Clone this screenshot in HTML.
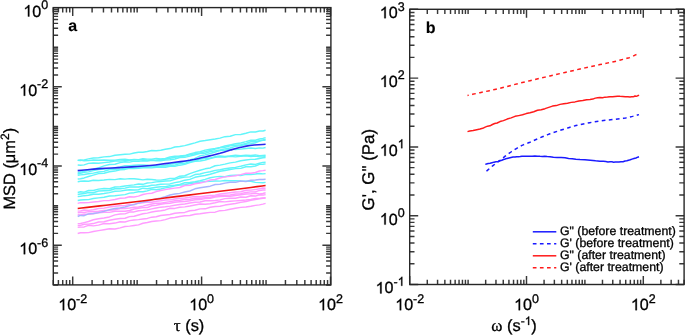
<!DOCTYPE html><html><head><meta charset="utf-8"><style>
html,body{margin:0;padding:0;background:#fff;width:685px;height:335px;overflow:hidden}
svg{display:block;filter:blur(0.35px)}
.g1{fill:#000;stroke:#000;stroke-width:0.3px;vector-effect:non-scaling-stroke}
text{font-family:"Liberation Sans",sans-serif;fill:#000;stroke:#000;stroke-width:0.3px;text-rendering:geometricPrecision}
</style></head><body>
<svg width="685" height="335" viewBox="0 0 685 335">
<rect width="685" height="335" fill="#fff"/>
<g fill="none" stroke-linejoin="round" stroke-linecap="butt">
<path d="M77.7 160.4 L80.52 160.44 L84.17 159.86 L88.49 158.9 L93.32 158.07 L98.54 157.69 L103.98 156.86 L109.49 156.59 L114.93 155.3 L120.15 154.82 L125 154.3 L129.57 154.1 L134.07 153.05 L138.51 152.24 L142.93 152.27 L147.33 151.56 L151.75 150.55 L156.2 150.74 L160.72 150.18 L165.31 149.26 L170 148.58 L174.82 146.99 L179.75 146.51 L184.77 145.65 L189.85 144.29 L194.96 142.9 L200.08 141.31 L205.17 140.58 L210.2 139.71 L215.16 139.04 L220 138.16 L224.94 136.67 L230.13 136.24 L235.44 134.63 L240.75 134.43 L245.93 133.3 L250.85 131.9 L255.41 132.04 L259.47 131.04 L262.91 131.02 L265.6 130.2" stroke="#62f5fa" stroke-width="1.45"/>
<path d="M77.7 160.4 L80.52 159.93 L84.17 160.75 L88.49 160.61 L93.32 159.95 L98.54 160.18 L103.98 160.06 L109.49 160.22 L114.93 160.29 L120.15 159.35 L125 159.13 L129.57 159.98 L134.07 159.4 L138.51 159.71 L142.93 158.71 L147.33 159.12 L151.75 159.29 L156.2 158.46 L160.72 159 L165.31 158.53 L170 156.94 L174.82 156.24 L179.75 156.03 L184.77 155.57 L189.85 153.87 L194.96 152.58 L200.08 151.7 L205.17 150.09 L210.2 149.19 L215.16 148.36 L220 147.39 L224.94 146.04 L230.13 144.94 L235.44 143.79 L240.75 142.94 L245.93 141.62 L250.85 140.23 L255.41 140.22 L259.47 139 L262.91 138.35 L265.6 137.6" stroke="#62f5fa" stroke-width="1.45"/>
<path d="M77.7 165 L80.52 165.27 L84.17 164.89 L88.49 163.37 L93.32 162.91 L98.54 163.28 L103.98 162.62 L109.49 162.01 L114.93 161.08 L120.15 161 L125 160.63 L129.57 160.33 L134.07 159.66 L138.51 159.89 L142.93 159.78 L147.33 160.12 L151.75 160.36 L156.2 160.16 L160.72 159.43 L165.31 158.95 L170 158.22 L174.82 157.26 L179.75 156.42 L184.77 156 L189.85 154.79 L194.96 153.76 L200.08 153.24 L205.17 151.66 L210.2 150.57 L215.16 149.1 L220 147.83 L224.94 147.19 L230.13 145.9 L235.44 145.27 L240.75 144.77 L245.93 143.33 L250.85 141.73 L255.41 141.65 L259.47 140.71 L262.91 139.93 L265.6 139.1" stroke="#62f5fa" stroke-width="1.45"/>
<path d="M77.7 172.9 L80.52 171.91 L84.17 171.35 L88.49 170.04 L93.32 169.09 L98.54 167.81 L103.98 165.83 L109.49 164.49 L114.93 164.31 L120.15 162.61 L125 161.78 L129.57 162.14 L134.07 161.14 L138.51 161.35 L142.93 160.79 L147.33 160.91 L151.75 160.25 L156.2 160.72 L160.72 160.8 L165.31 160.05 L170 159.79 L174.82 159.01 L179.75 157.46 L184.77 157.36 L189.85 156.15 L194.96 154.74 L200.08 153.31 L205.17 153.2 L210.2 151.63 L215.16 150.87 L220 150.05 L224.94 148.85 L230.13 148.04 L235.44 146.32 L240.75 145.71 L245.93 144.21 L250.85 143.78 L255.41 142.77 L259.47 140.99 L262.91 140.32 L265.6 140.2" stroke="#62f5fa" stroke-width="1.45"/>
<path d="M77.7 174 L80.52 173.18 L84.17 172.33 L88.49 171.86 L93.32 170.65 L98.54 169.57 L103.98 168.99 L109.49 168.67 L114.93 167.67 L120.15 166.89 L125 165.67 L129.57 165.69 L134.07 165.22 L138.51 165.09 L142.93 165.08 L147.33 165.31 L151.75 166.23 L156.2 166.1 L160.72 165.92 L165.31 165.56 L170 164.23 L174.82 163.46 L179.75 162.65 L184.77 161.38 L189.85 159.98 L194.96 158.39 L200.08 155.8 L205.17 154.85 L210.2 153.47 L215.16 152.01 L220 150.61 L224.94 150.19 L230.13 149.1 L235.44 149.62 L240.75 149.14 L245.93 148.46 L250.85 147.92 L255.41 148.47 L259.47 147.9 L262.91 148.12 L265.6 147.5" stroke="#62f5fa" stroke-width="1.45"/>
<path d="M77.7 175.2 L80.52 174.9 L84.17 174.44 L88.49 173.78 L93.32 173.14 L98.54 172.04 L103.98 171.39 L109.49 169.48 L114.93 169.21 L120.15 169.09 L125 168.18 L129.57 168.07 L134.07 166.84 L138.51 167.08 L142.93 166.68 L147.33 166.93 L151.75 166.85 L156.2 166.01 L160.72 166.01 L165.31 165.74 L170 166 L174.82 165.13 L179.75 163.55 L184.77 163.33 L189.85 161.48 L194.96 160.95 L200.08 159.26 L205.17 158.07 L210.2 158.17 L215.16 156.57 L220 155.96 L224.94 156.44 L230.13 156.01 L235.44 155.11 L240.75 155.82 L245.93 155.27 L250.85 155.45 L255.41 154.91 L259.47 155.83 L262.91 155.55 L265.6 155.3" stroke="#62f5fa" stroke-width="1.45"/>
<path d="M77.7 179 L80.52 178.73 L84.17 177.92 L88.49 176.51 L93.32 175.12 L98.54 173.61 L103.98 173.2 L109.49 171.81 L114.93 171.08 L120.15 169.69 L125 169.42 L129.57 168.3 L134.07 168.58 L138.51 168.27 L142.93 167.75 L147.33 167.81 L151.75 167.89 L156.2 167.17 L160.72 167.4 L165.31 167.36 L170 166.22 L174.82 166.17 L179.75 165.16 L184.77 164.35 L189.85 162.66 L194.96 161.25 L200.08 160.99 L205.17 159.94 L210.2 158.56 L215.16 157.33 L220 156.84 L224.94 156.93 L230.13 156.23 L235.44 156.85 L240.75 156.34 L245.93 155.86 L250.85 156.44 L255.41 156.15 L259.47 156.89 L262.91 156.9 L265.6 156.4" stroke="#62f5fa" stroke-width="1.45"/>
<path d="M77.7 181.7 L80.52 181.33 L84.17 180.91 L88.49 181.25 L93.32 180.27 L98.54 180.52 L103.98 180.01 L109.49 179.35 L114.93 179.62 L120.15 178.83 L125 179.12 L129.57 178.61 L134.07 178.69 L138.51 179.23 L142.93 179.88 L147.33 179.2 L151.75 179.42 L156.2 179.91 L160.72 180.15 L165.31 179.37 L170 178.58 L174.82 178.41 L179.75 176.16 L184.77 175.79 L189.85 173.62 L194.96 171.85 L200.08 170.2 L205.17 168.83 L210.2 167.93 L215.16 165.79 L220 165.1 L224.94 164.14 L230.13 162.85 L235.44 162.14 L240.75 160.71 L245.93 159.92 L250.85 159.37 L255.41 159.29 L259.47 158.42 L262.91 157.79 L265.6 157.6" stroke="#62f5fa" stroke-width="1.45"/>
<path d="M77.7 192.5 L80.52 191.78 L84.17 192.16 L88.49 190.55 L93.32 190.57 L98.54 189.1 L103.98 188.54 L109.49 188.69 L114.93 187 L120.15 186.81 L125 185.95 L129.57 185.37 L134.07 184.9 L138.51 184.05 L142.93 184.34 L147.33 182.98 L151.75 182.65 L156.2 181.86 L160.72 181.56 L165.31 181.06 L170 180.88 L174.82 179.37 L179.75 178.05 L184.77 177.14 L189.85 176.88 L194.96 174.58 L200.08 174.06 L205.17 172.6 L210.2 171.81 L215.16 170.37 L220 169.83 L224.94 168.69 L230.13 167.98 L235.44 167.4 L240.75 166.18 L245.93 164.85 L250.85 164 L255.41 164.38 L259.47 163.22 L262.91 162.35 L265.6 162.3" stroke="#62f5fa" stroke-width="1.45"/>
<path d="M77.7 194.5 L80.52 194.06 L84.17 193.43 L88.49 192.53 L93.32 192.72 L98.54 190.95 L103.98 190.78 L109.49 190.49 L114.93 188.78 L120.15 188.67 L125 188.14 L129.57 186.94 L134.07 186.93 L138.51 186.95 L142.93 186.3 L147.33 186.29 L151.75 185.24 L156.2 184.92 L160.72 184.27 L165.31 184.14 L170 183.91 L174.82 182.62 L179.75 181.8 L184.77 180.18 L189.85 179.38 L194.96 177.33 L200.08 176.26 L205.17 175.44 L210.2 174.27 L215.16 172.75 L220 171.31 L224.94 170.54 L230.13 169.51 L235.44 168.65 L240.75 168.37 L245.93 166.76 L250.85 166.78 L255.41 166.03 L259.47 164.38 L262.91 164.21 L265.6 163.9" stroke="#62f5fa" stroke-width="1.45"/>
<path d="M77.7 196.6 L80.52 196.32 L84.17 195.66 L88.49 195.27 L93.32 194.18 L98.54 194.22 L103.98 193.52 L109.49 192.6 L114.93 191.32 L120.15 191.11 L125 190.29 L129.57 189.69 L134.07 190.08 L138.51 189.72 L142.93 188.18 L147.33 188.76 L151.75 188.05 L156.2 187.34 L160.72 186.73 L165.31 186.65 L170 185.75 L174.82 185.27 L179.75 184.38 L184.77 182.79 L189.85 182.55 L194.96 181.79 L200.08 180.75 L205.17 179.35 L210.2 177.75 L215.16 176.89 L220 176.36 L224.94 176.76 L230.13 175.5 L235.44 175.15 L240.75 175.43 L245.93 174.41 L250.85 174.43 L255.41 174.07 L259.47 173.42 L262.91 173.87 L265.6 173.6" stroke="#62f5fa" stroke-width="1.45"/>
<path d="M77.7 200.5 L80.52 200.08 L84.17 199.75 L88.49 199.64 L93.32 198.48 L98.54 197.87 L103.98 197.26 L109.49 196.06 L114.93 195.72 L120.15 195.15 L125 194.65 L129.57 193.12 L134.07 192.66 L138.51 191.67 L142.93 191.78 L147.33 190.89 L151.75 189.35 L156.2 189.73 L160.72 188.97 L165.31 187.88 L170 187.14 L174.82 185.88 L179.75 184.97 L184.77 184.82 L189.85 183.5 L194.96 182.92 L200.08 182.29 L205.17 181.41 L210.2 181.39 L215.16 180.93 L220 181.11 L224.94 180.58 L230.13 180.72 L235.44 180.68 L240.75 181.08 L245.93 181.11 L250.85 181.19 L255.41 182.36 L259.47 182.64 L262.91 182.67 L265.6 182.4" stroke="#62f5fa" stroke-width="1.45"/>
<path d="M77.7 203.4 L80.52 202.67 L84.17 202.67 L88.49 202.62 L93.32 202.05 L98.54 201.54 L103.98 200.6 L109.49 200.41 L114.93 199.44 L120.15 198.21 L125 197.95 L129.57 196.71 L134.07 196.98 L138.51 196.15 L142.93 194.54 L147.33 193.6 L151.75 193.21 L156.2 191.58 L160.72 190.57 L165.31 189.61 L170 188.82 L174.82 188.15 L179.75 187.5 L184.77 185.52 L189.85 185.31 L194.96 183.72 L200.08 183.03 L205.17 181.84 L210.2 179.98 L215.16 179.55 L220 177.95 L224.94 176.85 L230.13 176.35 L235.44 175.83 L240.75 174.63 L245.93 173.27 L250.85 173.18 L255.41 172.48 L259.47 170.96 L262.91 170.61 L265.6 170.2" stroke="#ff9cff" stroke-width="1.45"/>
<path d="M77.7 211.1 L80.52 210.86 L84.17 209.96 L88.49 210.37 L93.32 209.74 L98.54 208.57 L103.98 208.15 L109.49 206.95 L114.93 206.3 L120.15 205.74 L125 205.63 L129.57 204.48 L134.07 204.82 L138.51 203.17 L142.93 202.75 L147.33 202.05 L151.75 202.3 L156.2 201.24 L160.72 200.8 L165.31 200.06 L170 199.86 L174.82 199.02 L179.75 198.23 L184.77 197.94 L189.85 197.23 L194.96 196.45 L200.08 196.74 L205.17 196.02 L210.2 195.44 L215.16 195.13 L220 193.97 L224.94 193.35 L230.13 192.75 L235.44 192.05 L240.75 191.68 L245.93 190.21 L250.85 190.11 L255.41 189.59 L259.47 188.82 L262.91 187.98 L265.6 188.2" stroke="#ff9cff" stroke-width="1.45"/>
<path d="M77.7 212.9 L80.52 212.23 L84.17 212.48 L88.49 211.59 L93.32 211.84 L98.54 211.27 L103.98 210.52 L109.49 210.29 L114.93 209.7 L120.15 208.52 L125 208.54 L129.57 208.04 L134.07 207.27 L138.51 207 L142.93 206.1 L147.33 204.92 L151.75 203.99 L156.2 203.13 L160.72 203.22 L165.31 202.38 L170 201.63 L174.82 200.82 L179.75 200.31 L184.77 199.42 L189.85 199.25 L194.96 198.26 L200.08 198.31 L205.17 197.8 L210.2 197.31 L215.16 196.26 L220 195.51 L224.94 195.19 L230.13 194.96 L235.44 194.06 L240.75 193.65 L245.93 192.57 L250.85 191.87 L255.41 191.86 L259.47 190.42 L262.91 190.01 L265.6 190" stroke="#ff9cff" stroke-width="1.45"/>
<path d="M77.7 214.7 L80.52 215.05 L84.17 214.16 L88.49 214.16 L93.32 213.83 L98.54 212.82 L103.98 212.23 L109.49 212.4 L114.93 211.33 L120.15 211.11 L125 211.17 L129.57 210.54 L134.07 208.97 L138.51 208.2 L142.93 207.61 L147.33 207.55 L151.75 205.79 L156.2 205.23 L160.72 204.31 L165.31 203.57 L170 203.33 L174.82 202.22 L179.75 201.79 L184.77 201.48 L189.85 200.78 L194.96 199.74 L200.08 199.52 L205.17 198.62 L210.2 198.32 L215.16 197.04 L220 196.64 L224.94 196.38 L230.13 196.31 L235.44 195.43 L240.75 194.8 L245.93 194.09 L250.85 193.73 L255.41 193.29 L259.47 193.89 L262.91 193.49 L265.6 192.8" stroke="#ff9cff" stroke-width="1.45"/>
<path d="M77.7 223.6 L80.52 223.53 L84.17 222.61 L88.49 221.48 L93.32 219.79 L98.54 218.76 L103.98 218.02 L109.49 216.94 L114.93 214.84 L120.15 213.95 L125 213.87 L129.57 212.08 L134.07 211.91 L138.51 210.74 L142.93 210.37 L147.33 209.9 L151.75 208.86 L156.2 207.94 L160.72 207.16 L165.31 206.84 L170 206.15 L174.82 205.2 L179.75 204.58 L184.77 203.98 L189.85 202.97 L194.96 202.21 L200.08 202.02 L205.17 200.82 L210.2 200.8 L215.16 200.44 L220 199.89 L224.94 198.63 L230.13 198.24 L235.44 198.27 L240.75 197.01 L245.93 197.23 L250.85 195.77 L255.41 196.07 L259.47 194.69 L262.91 195.09 L265.6 194.6" stroke="#ff9cff" stroke-width="1.45"/>
<path d="M77.7 225.4 L80.52 225.42 L84.17 224.23 L88.49 224.11 L93.32 223.57 L98.54 222.01 L103.98 221.71 L109.49 220.32 L114.93 219.23 L120.15 218.57 L125 218.2 L129.57 216.61 L134.07 216.3 L138.51 214.98 L142.93 213.78 L147.33 213.11 L151.75 212.08 L156.2 211.2 L160.72 210.77 L165.31 209.93 L170 208.27 L174.82 208.41 L179.75 207.2 L184.77 206.9 L189.85 206.03 L194.96 205.01 L200.08 204.04 L205.17 204.23 L210.2 203.72 L215.16 202.7 L220 201.54 L224.94 201.85 L230.13 201.26 L235.44 200.89 L240.75 200.52 L245.93 200.06 L250.85 199.35 L255.41 198.55 L259.47 198.37 L262.91 198.04 L265.6 197.8" stroke="#ff9cff" stroke-width="1.45"/>
<path d="M77.7 227.2 L80.52 227.11 L84.17 226.91 L88.49 225.34 L93.32 225.88 L98.54 225.12 L103.98 223.55 L109.49 223.77 L114.93 223.09 L120.15 221.68 L125 221.97 L129.57 220.6 L134.07 220.06 L138.51 219.65 L142.93 219.02 L147.33 218.41 L151.75 217.16 L156.2 216.7 L160.72 215.56 L165.31 214.99 L170 214.49 L174.82 213.2 L179.75 212.71 L184.77 212.43 L189.85 210.8 L194.96 210.23 L200.08 208.88 L205.17 208.84 L210.2 207.21 L215.16 206.45 L220 206.29 L224.94 205.08 L230.13 204.32 L235.44 203.47 L240.75 202.41 L245.93 201.43 L250.85 200.25 L255.41 199.44 L259.47 198.81 L262.91 198.26 L265.6 198.1" stroke="#ff9cff" stroke-width="1.45"/>
<path d="M77.7 233.5 L80.52 232.8 L84.17 232.71 L88.49 232.6 L93.32 231.57 L98.54 230.65 L103.98 229.69 L109.49 228.7 L114.93 228.95 L120.15 227.87 L125 226.5 L129.57 226.14 L134.07 225.48 L138.51 224.89 L142.93 223.29 L147.33 222.48 L151.75 221.46 L156.2 221.09 L160.72 220.64 L165.31 219.59 L170 218.07 L174.82 217.56 L179.75 216.44 L184.77 215.79 L189.85 215.44 L194.96 214.29 L200.08 213.69 L205.17 212.92 L210.2 212.4 L215.16 212.18 L220 210.68 L224.94 210.35 L230.13 209.24 L235.44 208.24 L240.75 207.36 L245.93 207.07 L250.85 206.31 L255.41 205.4 L259.47 204.9 L262.91 204.13 L265.6 203.4" stroke="#ff9cff" stroke-width="1.45"/>
<path d="M77.7 216.5 L80.52 215.42 L84.17 215.7 L88.49 213.85 L93.32 213.56 L98.54 212.6 L103.98 211.35 L109.49 209.65 L114.93 208.55 L120.15 207.85 L125 207.06 L129.57 205.64 L134.07 204.42 L138.51 203.15 L142.93 202.08 L147.33 201.36 L151.75 199.9 L156.2 198.91 L160.72 197.91 L165.31 196.78 L170 194.95 L174.82 194.02 L179.75 193.37 L184.77 191.96 L189.85 191.02 L194.96 188.82 L200.08 187.81 L205.17 186.97 L210.2 186.17 L215.16 184.51 L220 184.32 L224.94 183.13 L230.13 182.32 L235.44 182.34 L240.75 180.93 L245.93 181.45 L250.85 180.29 L255.41 179.99 L259.47 179.47 L262.91 179.51 L265.6 179.3" stroke="#a8b4ff" stroke-width="1.45"/>
<path d="M77.7 170.6 L81.64 170.22 L87.29 169.68 L93.71 169.1 L100 168.6 L106.06 168.24 L112.33 167.94 L118.69 167.64 L125 167.3 L131.37 166.9 L137.81 166.48 L144.1 166.01 L150 165.5 L155.35 164.93 L160.31 164.31 L165.12 163.66 L170 163 L175.12 162.33 L180.31 161.64 L185.35 160.94 L190 160.2 L194.1 159.44 L197.81 158.66 L201.37 157.84 L205 157 L208.75 156.13 L212.5 155.23 L216.25 154.29 L220 153.3 L223.75 152.2 L227.5 151.03 L231.25 149.86 L235 148.8 L238.74 147.84 L242.46 146.94 L246.21 146.15 L250 145.5 L254.22 145.02 L258.74 144.69 L262.78 144.47 L265.6 144.3" stroke="#2828ec" stroke-width="1.6"/>
<path d="M77.7 208.5 L81.64 208.04 L87.29 207.38 L93.71 206.63 L100 205.9 L106.06 205.2 L112.33 204.48 L118.69 203.74 L125 203 L131.37 202.25 L137.81 201.48 L144.1 200.72 L150 200 L155.23 199.33 L160 198.71 L164.77 198.08 L170 197.4 L175.9 196.66 L182.19 195.88 L188.63 195.09 L195 194.3 L201.25 193.52 L207.5 192.74 L213.75 191.97 L220 191.2 L226.35 190.44 L232.78 189.67 L239.06 188.93 L245 188.2 L250.94 187.44 L256.86 186.66 L262 185.98 L265.6 185.5" stroke="#f01414" stroke-width="1.6"/>
</g>
<g fill="none" stroke-width="1.5" stroke-linejoin="round">
<path d="M467.5 95.4 L469.57 94.95 L472.5 94.33 L476.05 93.56 L480 92.7 L484.47 91.74 L489.53 90.66 L494.82 89.5 L500 88.3 L505 87.05 L510 85.72 L515 84.39 L520 83.1 L525 81.87 L530 80.67 L535 79.48 L540 78.3 L545 77.12 L550 75.94 L555 74.77 L560 73.6 L565 72.44 L570 71.28 L575 70.13 L580 69 L585.12 67.86 L590.31 66.71 L595.35 65.61 L600 64.6 L604.22 63.7 L608.12 62.89 L611.72 62.13 L615 61.4 L617.95 60.68 L620.56 60 L622.9 59.37 L625 58.8 L626.83 58.34 L628.38 57.96 L629.73 57.6 L631 57.2 L632.14 56.73 L633.12 56.23 L634.05 55.71 L635 55.2 L636.09 54.65 L637.25 54.08 L638.28 53.56 L639 53.2" stroke="#ff1a1a" stroke-dasharray="3.75 3.45" stroke-dashoffset="2.5"/>
<path d="M467.5 131.6 L469.8 130.97 L473.12 130.54 L476.76 129.68 L480 129.07 L482.68 128.31 L485.16 127.08 L487.56 126.17 L490 125.84 L492.38 124.5 L494.69 123.51 L497.15 123.03 L500 121.58 L503.4 120.63 L507.19 119.08 L511.13 117.9 L515 116.36 L518.75 115.62 L522.5 114.8 L526.25 113.59 L530 112.77 L533.75 111.72 L537.5 110.31 L541.25 109.79 L545 108.66 L548.75 107.39 L552.5 106.1 L556.25 105.61 L560 104.38 L563.75 103.74 L567.5 103.15 L571.25 102.38 L575 101.89 L578.87 100.9 L582.81 100.59 L586.6 99.78 L590 99.6 L592.85 99.1 L595.31 98.13 L597.62 97.78 L600 97.5 L602.5 97.74 L605 97.14 L607.5 97.07 L610 96.66 L612.5 96.63 L615 96.4 L617.5 96.26 L620 96.36 L622.62 96.39 L625.31 96.73 L627.85 96.68 L630 96.9 L631.62 96.82 L632.88 96.84 L633.94 96.49 L635 95.96 L636.16 96.18 L637.31 95.9 L638.3 95.52 L639 95" stroke="#ff1a1a"/>
<path d="M486.5 171.2 L487.66 170.18 L489.31 168.72 L491.19 167.1 L493 165.6 L494.71 164.28 L496.47 163 L498.24 161.72 L500 160.4 L501.73 159.02 L503.44 157.61 L505.18 156.2 L507 154.8 L508.95 153.4 L511 152 L513.05 150.65 L515 149.4 L516.8 148.28 L518.5 147.26 L520.2 146.31 L522 145.4 L523.88 144.57 L525.81 143.82 L527.84 143.07 L530 142.2 L532.36 141.17 L534.88 140.05 L537.45 138.9 L540 137.8 L542.38 136.8 L544.69 135.84 L547.15 134.86 L550 133.8 L553.4 132.6 L557.19 131.31 L561.13 130.02 L565 128.8 L568.63 127.68 L572.19 126.61 L575.9 125.59 L580 124.6 L584.65 123.62 L589.69 122.67 L594.88 121.79 L600 121 L605.23 120.34 L610.62 119.79 L615.7 119.29 L620 118.8 L623.23 118.34 L625.69 117.91 L627.8 117.48 L630 117 L632.53 116.39 L635.12 115.69 L637.41 115.05 L639 114.6" stroke="#1a1aff" stroke-dasharray="3.7 3.4"/>
<path d="M485.3 164.4 L486.47 164.02 L488.15 163.57 L490.08 163.23 L492 162.66 L493.93 162.14 L495.98 161.75 L498.04 161.41 L500 160.82 L501.8 160.25 L503.5 159.46 L505.2 159.02 L507 158.41 L508.95 157.9 L511 157.44 L513.05 157.1 L515 157.07 L516.8 156.8 L518.5 156.63 L520.2 156.51 L522 156.18 L523.88 156.16 L525.81 156.26 L527.84 156.29 L530 156.34 L532.36 156.35 L534.88 156.05 L537.45 156.28 L540 156.37 L542.38 156.39 L544.69 156.36 L547.15 156.61 L550 156.64 L553.4 157.2 L557.19 157.43 L561.13 157.6 L565 157.82 L568.63 158.4 L572.19 158.64 L575.9 159.15 L580 159.54 L584.88 159.86 L590.31 160.32 L595.59 160.86 L600 161.17 L603.27 161.33 L605.81 161.57 L607.95 161.91 L610 161.72 L611.94 161.83 L613.62 162.15 L615.25 162.05 L617 162.11 L618.95 161.97 L621 161.72 L623.05 161.73 L625 161.08 L626.82 160.75 L628.56 160.17 L630.27 159.81 L632 159.11 L633.91 158.51 L635.94 157.97 L637.74 157.17 L639 156.8" stroke="#1a1aff"/>
<path d="M532.8 231.8 H556.3" stroke="#1a1aff"/>
<path d="M532.8 243.8 H556.3" stroke="#1a1aff" stroke-dasharray="3.7 3.4"/>
<path d="M532.8 255.8 H556.3" stroke="#ff1a1a"/>
<path d="M532.8 267.8 H556.3" stroke="#ff1a1a" stroke-dasharray="3.7 3.4"/>
</g>
<path d="M53.3 284.9v-4.8M53.3 7.6v4.8M58.4 284.9v-4.8M58.4 7.6v4.8M62.72 284.9v-4.8M62.72 7.6v4.8M66.45 284.9v-4.8M66.45 7.6v4.8M69.75 284.9v-4.8M69.75 7.6v4.8M72.7 284.9v-8.5M72.7 7.6v8.5M92.1 284.9v-4.8M92.1 7.6v4.8M103.45 284.9v-4.8M103.45 7.6v4.8M111.5 284.9v-4.8M111.5 7.6v4.8M117.75 284.9v-4.8M117.75 7.6v4.8M122.85 284.9v-4.8M122.85 7.6v4.8M127.17 284.9v-4.8M127.17 7.6v4.8M130.9 284.9v-4.8M130.9 7.6v4.8M134.2 284.9v-4.8M134.2 7.6v4.8M137.15 284.9v-4.8M137.15 7.6v4.8M156.55 284.9v-4.8M156.55 7.6v4.8M167.9 284.9v-4.8M167.9 7.6v4.8M175.95 284.9v-4.8M175.95 7.6v4.8M182.2 284.9v-4.8M182.2 7.6v4.8M187.3 284.9v-4.8M187.3 7.6v4.8M191.62 284.9v-4.8M191.62 7.6v4.8M195.35 284.9v-4.8M195.35 7.6v4.8M198.65 284.9v-4.8M198.65 7.6v4.8M201.6 284.9v-8.5M201.6 7.6v8.5M221 284.9v-4.8M221 7.6v4.8M232.35 284.9v-4.8M232.35 7.6v4.8M240.4 284.9v-4.8M240.4 7.6v4.8M246.65 284.9v-4.8M246.65 7.6v4.8M251.75 284.9v-4.8M251.75 7.6v4.8M256.07 284.9v-4.8M256.07 7.6v4.8M259.8 284.9v-4.8M259.8 7.6v4.8M263.1 284.9v-4.8M263.1 7.6v4.8M266.05 284.9v-4.8M266.05 7.6v4.8M285.45 284.9v-4.8M285.45 7.6v4.8M296.8 284.9v-4.8M296.8 7.6v4.8M304.85 284.9v-4.8M304.85 7.6v4.8M311.1 284.9v-4.8M311.1 7.6v4.8M316.2 284.9v-4.8M316.2 7.6v4.8M320.52 284.9v-4.8M320.52 7.6v4.8M324.25 284.9v-4.8M324.25 7.6v4.8M327.55 284.9v-4.8M327.55 7.6v4.8M330.5 284.9v-8.5M330.5 7.6v8.5M53.3 284.9h4.8M330.9 284.9h-4.8M53.3 272.97h4.8M330.9 272.97h-4.8M53.3 266h4.8M330.9 266h-4.8M53.3 261.05h4.8M330.9 261.05h-4.8M53.3 257.21h4.8M330.9 257.21h-4.8M53.3 254.07h4.8M330.9 254.07h-4.8M53.3 251.42h4.8M330.9 251.42h-4.8M53.3 249.12h4.8M330.9 249.12h-4.8M53.3 247.1h4.8M330.9 247.1h-4.8M53.3 245.29h8.5M330.9 245.29h-8.5M53.3 233.36h4.8M330.9 233.36h-4.8M53.3 226.38h4.8M330.9 226.38h-4.8M53.3 221.44h4.8M330.9 221.44h-4.8M53.3 217.6h4.8M330.9 217.6h-4.8M53.3 214.46h4.8M330.9 214.46h-4.8M53.3 211.81h4.8M330.9 211.81h-4.8M53.3 209.51h4.8M330.9 209.51h-4.8M53.3 207.48h4.8M330.9 207.48h-4.8M53.3 205.67h4.8M330.9 205.67h-4.8M53.3 193.75h4.8M330.9 193.75h-4.8M53.3 186.77h4.8M330.9 186.77h-4.8M53.3 181.82h4.8M330.9 181.82h-4.8M53.3 177.98h4.8M330.9 177.98h-4.8M53.3 174.85h4.8M330.9 174.85h-4.8M53.3 172.19h4.8M330.9 172.19h-4.8M53.3 169.9h4.8M330.9 169.9h-4.8M53.3 167.87h4.8M330.9 167.87h-4.8M53.3 166.06h8.5M330.9 166.06h-8.5M53.3 154.13h4.8M330.9 154.13h-4.8M53.3 147.16h4.8M330.9 147.16h-4.8M53.3 142.21h4.8M330.9 142.21h-4.8M53.3 138.37h4.8M330.9 138.37h-4.8M53.3 135.23h4.8M330.9 135.23h-4.8M53.3 132.58h4.8M330.9 132.58h-4.8M53.3 130.28h4.8M330.9 130.28h-4.8M53.3 128.26h4.8M330.9 128.26h-4.8M53.3 126.44h4.8M330.9 126.44h-4.8M53.3 114.52h4.8M330.9 114.52h-4.8M53.3 107.54h4.8M330.9 107.54h-4.8M53.3 102.59h4.8M330.9 102.59h-4.8M53.3 98.75h4.8M330.9 98.75h-4.8M53.3 95.62h4.8M330.9 95.62h-4.8M53.3 92.96h4.8M330.9 92.96h-4.8M53.3 90.67h4.8M330.9 90.67h-4.8M53.3 88.64h4.8M330.9 88.64h-4.8M53.3 86.83h8.5M330.9 86.83h-8.5M53.3 74.9h4.8M330.9 74.9h-4.8M53.3 67.93h4.8M330.9 67.93h-4.8M53.3 62.98h4.8M330.9 62.98h-4.8M53.3 59.14h4.8M330.9 59.14h-4.8M53.3 56h4.8M330.9 56h-4.8M53.3 53.35h4.8M330.9 53.35h-4.8M53.3 51.05h4.8M330.9 51.05h-4.8M53.3 49.03h4.8M330.9 49.03h-4.8M53.3 47.21h4.8M330.9 47.21h-4.8M53.3 35.29h4.8M330.9 35.29h-4.8M53.3 28.31h4.8M330.9 28.31h-4.8M53.3 23.36h4.8M330.9 23.36h-4.8M53.3 19.53h4.8M330.9 19.53h-4.8M53.3 16.39h4.8M330.9 16.39h-4.8M53.3 13.74h4.8M330.9 13.74h-4.8M53.3 11.44h4.8M330.9 11.44h-4.8M53.3 9.41h4.8M330.9 9.41h-4.8M53.3 7.6h8.5M330.9 7.6h-8.5" fill="none" stroke="#383838" stroke-width="1.45"/>
<rect x="53.3" y="7.6" width="277.6" height="277.3" fill="none" stroke="#262626" stroke-width="1.4"/>
<path d="M409.7 284.5v-8.5M409.7 9.3v8.5M427.28 284.5v-4.8M427.28 9.3v4.8M437.56 284.5v-4.8M437.56 9.3v4.8M444.86 284.5v-4.8M444.86 9.3v4.8M450.52 284.5v-4.8M450.52 9.3v4.8M455.14 284.5v-4.8M455.14 9.3v4.8M459.05 284.5v-4.8M459.05 9.3v4.8M462.44 284.5v-4.8M462.44 9.3v4.8M465.43 284.5v-4.8M465.43 9.3v4.8M468.1 284.5v-4.8M468.1 9.3v4.8M485.68 284.5v-4.8M485.68 9.3v4.8M495.96 284.5v-4.8M495.96 9.3v4.8M503.26 284.5v-4.8M503.26 9.3v4.8M508.92 284.5v-4.8M508.92 9.3v4.8M513.54 284.5v-4.8M513.54 9.3v4.8M517.45 284.5v-4.8M517.45 9.3v4.8M520.84 284.5v-4.8M520.84 9.3v4.8M523.83 284.5v-4.8M523.83 9.3v4.8M526.5 284.5v-8.5M526.5 9.3v8.5M544.08 284.5v-4.8M544.08 9.3v4.8M554.36 284.5v-4.8M554.36 9.3v4.8M561.66 284.5v-4.8M561.66 9.3v4.8M567.32 284.5v-4.8M567.32 9.3v4.8M571.94 284.5v-4.8M571.94 9.3v4.8M575.85 284.5v-4.8M575.85 9.3v4.8M579.24 284.5v-4.8M579.24 9.3v4.8M582.23 284.5v-4.8M582.23 9.3v4.8M584.9 284.5v-4.8M584.9 9.3v4.8M602.48 284.5v-4.8M602.48 9.3v4.8M612.76 284.5v-4.8M612.76 9.3v4.8M620.06 284.5v-4.8M620.06 9.3v4.8M625.72 284.5v-4.8M625.72 9.3v4.8M630.34 284.5v-4.8M630.34 9.3v4.8M634.25 284.5v-4.8M634.25 9.3v4.8M637.64 284.5v-4.8M637.64 9.3v4.8M640.63 284.5v-4.8M640.63 9.3v4.8M643.3 284.5v-8.5M643.3 9.3v8.5M660.88 284.5v-4.8M660.88 9.3v4.8M671.16 284.5v-4.8M671.16 9.3v4.8M678.46 284.5v-4.8M678.46 9.3v4.8M684.12 284.5v-4.8M684.12 9.3v4.8M409.7 284.5h8.5M684.1 284.5h-8.5M409.7 263.79h4.8M684.1 263.79h-4.8M409.7 251.67h4.8M684.1 251.67h-4.8M409.7 243.08h4.8M684.1 243.08h-4.8M409.7 236.41h4.8M684.1 236.41h-4.8M409.7 230.96h4.8M684.1 230.96h-4.8M409.7 226.36h4.8M684.1 226.36h-4.8M409.7 222.37h4.8M684.1 222.37h-4.8M409.7 218.85h4.8M684.1 218.85h-4.8M409.7 215.7h8.5M684.1 215.7h-8.5M409.7 194.99h4.8M684.1 194.99h-4.8M409.7 182.87h4.8M684.1 182.87h-4.8M409.7 174.28h4.8M684.1 174.28h-4.8M409.7 167.61h4.8M684.1 167.61h-4.8M409.7 162.16h4.8M684.1 162.16h-4.8M409.7 157.56h4.8M684.1 157.56h-4.8M409.7 153.57h4.8M684.1 153.57h-4.8M409.7 150.05h4.8M684.1 150.05h-4.8M409.7 146.9h8.5M684.1 146.9h-8.5M409.7 126.19h4.8M684.1 126.19h-4.8M409.7 114.07h4.8M684.1 114.07h-4.8M409.7 105.48h4.8M684.1 105.48h-4.8M409.7 98.81h4.8M684.1 98.81h-4.8M409.7 93.36h4.8M684.1 93.36h-4.8M409.7 88.76h4.8M684.1 88.76h-4.8M409.7 84.77h4.8M684.1 84.77h-4.8M409.7 81.25h4.8M684.1 81.25h-4.8M409.7 78.1h8.5M684.1 78.1h-8.5M409.7 57.39h4.8M684.1 57.39h-4.8M409.7 45.27h4.8M684.1 45.27h-4.8M409.7 36.68h4.8M684.1 36.68h-4.8M409.7 30.01h4.8M684.1 30.01h-4.8M409.7 24.56h4.8M684.1 24.56h-4.8M409.7 19.96h4.8M684.1 19.96h-4.8M409.7 15.97h4.8M684.1 15.97h-4.8M409.7 12.45h4.8M684.1 12.45h-4.8M409.7 9.3h8.5M684.1 9.3h-8.5" fill="none" stroke="#383838" stroke-width="1.45"/>
<rect x="409.7" y="9.3" width="274.4" height="275.2" fill="none" stroke="#262626" stroke-width="1.4"/>
<path class="g1" transform="translate(23.35 16.5) scale(16.1)" d="M0.3726 0L0.2847 0L0.2847 -0.5601Q0.245 -0.523 0.19 -0.491Q0.14 -0.462 0.109 -0.449L0.109 -0.5342Q0.175 -0.566 0.225 -0.612Q0.285 -0.665 0.3154 -0.7158L0.3726 -0.7158Z"/><text x="32.3" y="16.5" font-size="16.1">0</text><text x="41.25" y="8.9" font-size="12.5">0</text>
<path class="g1" transform="translate(19.18 95.73) scale(16.1)" d="M0.3726 0L0.2847 0L0.2847 -0.5601Q0.245 -0.523 0.19 -0.491Q0.14 -0.462 0.109 -0.449L0.109 -0.5342Q0.175 -0.566 0.225 -0.612Q0.285 -0.665 0.3154 -0.7158L0.3726 -0.7158Z"/><text x="28.14" y="95.73" font-size="16.1">0</text><text x="37.09" y="88.13" font-size="12.5">-2</text>
<path class="g1" transform="translate(19.18 174.96) scale(16.1)" d="M0.3726 0L0.2847 0L0.2847 -0.5601Q0.245 -0.523 0.19 -0.491Q0.14 -0.462 0.109 -0.449L0.109 -0.5342Q0.175 -0.566 0.225 -0.612Q0.285 -0.665 0.3154 -0.7158L0.3726 -0.7158Z"/><text x="28.14" y="174.96" font-size="16.1">0</text><text x="37.09" y="167.36" font-size="12.5">-4</text>
<path class="g1" transform="translate(19.18 254.19) scale(16.1)" d="M0.3726 0L0.2847 0L0.2847 -0.5601Q0.245 -0.523 0.19 -0.491Q0.14 -0.462 0.109 -0.449L0.109 -0.5342Q0.175 -0.566 0.225 -0.612Q0.285 -0.665 0.3154 -0.7158L0.3726 -0.7158Z"/><text x="28.14" y="254.19" font-size="16.1">0</text><text x="37.09" y="246.59" font-size="12.5">-6</text>
<path class="g1" transform="translate(58.19 310.2) scale(16.1)" d="M0.3726 0L0.2847 0L0.2847 -0.5601Q0.245 -0.523 0.19 -0.491Q0.14 -0.462 0.109 -0.449L0.109 -0.5342Q0.175 -0.566 0.225 -0.612Q0.285 -0.665 0.3154 -0.7158L0.3726 -0.7158Z"/><text x="67.14" y="310.2" font-size="16.1">0</text><text x="76.1" y="302.6" font-size="12.5">-2</text>
<path class="g1" transform="translate(189.17 310.2) scale(16.1)" d="M0.3726 0L0.2847 0L0.2847 -0.5601Q0.245 -0.523 0.19 -0.491Q0.14 -0.462 0.109 -0.449L0.109 -0.5342Q0.175 -0.566 0.225 -0.612Q0.285 -0.665 0.3154 -0.7158L0.3726 -0.7158Z"/><text x="198.13" y="310.2" font-size="16.1">0</text><text x="207.08" y="302.6" font-size="12.5">0</text>
<path class="g1" transform="translate(318.07 310.2) scale(16.1)" d="M0.3726 0L0.2847 0L0.2847 -0.5601Q0.245 -0.523 0.19 -0.491Q0.14 -0.462 0.109 -0.449L0.109 -0.5342Q0.175 -0.566 0.225 -0.612Q0.285 -0.665 0.3154 -0.7158L0.3726 -0.7158Z"/><text x="327.02" y="310.2" font-size="16.1">0</text><text x="335.98" y="302.6" font-size="12.5">2</text>
<path class="g1" transform="translate(379.75 18.2) scale(16.1)" d="M0.3726 0L0.2847 0L0.2847 -0.5601Q0.245 -0.523 0.19 -0.491Q0.14 -0.462 0.109 -0.449L0.109 -0.5342Q0.175 -0.566 0.225 -0.612Q0.285 -0.665 0.3154 -0.7158L0.3726 -0.7158Z"/><text x="388.7" y="18.2" font-size="16.1">0</text><text x="397.65" y="10.6" font-size="12.5">3</text>
<path class="g1" transform="translate(379.75 87) scale(16.1)" d="M0.3726 0L0.2847 0L0.2847 -0.5601Q0.245 -0.523 0.19 -0.491Q0.14 -0.462 0.109 -0.449L0.109 -0.5342Q0.175 -0.566 0.225 -0.612Q0.285 -0.665 0.3154 -0.7158L0.3726 -0.7158Z"/><text x="388.7" y="87" font-size="16.1">0</text><text x="397.65" y="79.4" font-size="12.5">2</text>
<path class="g1" transform="translate(379.75 155.8) scale(16.1)" d="M0.3726 0L0.2847 0L0.2847 -0.5601Q0.245 -0.523 0.19 -0.491Q0.14 -0.462 0.109 -0.449L0.109 -0.5342Q0.175 -0.566 0.225 -0.612Q0.285 -0.665 0.3154 -0.7158L0.3726 -0.7158Z"/><text x="388.7" y="155.8" font-size="16.1">0</text><path class="g1" transform="translate(397.65 148.2) scale(12.5)" d="M0.3726 0L0.2847 0L0.2847 -0.5601Q0.245 -0.523 0.19 -0.491Q0.14 -0.462 0.109 -0.449L0.109 -0.5342Q0.175 -0.566 0.225 -0.612Q0.285 -0.665 0.3154 -0.7158L0.3726 -0.7158Z"/>
<path class="g1" transform="translate(379.75 224.6) scale(16.1)" d="M0.3726 0L0.2847 0L0.2847 -0.5601Q0.245 -0.523 0.19 -0.491Q0.14 -0.462 0.109 -0.449L0.109 -0.5342Q0.175 -0.566 0.225 -0.612Q0.285 -0.665 0.3154 -0.7158L0.3726 -0.7158Z"/><text x="388.7" y="224.6" font-size="16.1">0</text><text x="397.65" y="217" font-size="12.5">0</text>
<path class="g1" transform="translate(375.58 293.4) scale(16.1)" d="M0.3726 0L0.2847 0L0.2847 -0.5601Q0.245 -0.523 0.19 -0.491Q0.14 -0.462 0.109 -0.449L0.109 -0.5342Q0.175 -0.566 0.225 -0.612Q0.285 -0.665 0.3154 -0.7158L0.3726 -0.7158Z"/><text x="384.54" y="293.4" font-size="16.1">0</text><text x="393.49" y="285.8" font-size="12.5">-</text><path class="g1" transform="translate(397.65 285.8) scale(12.5)" d="M0.3726 0L0.2847 0L0.2847 -0.5601Q0.245 -0.523 0.19 -0.491Q0.14 -0.462 0.109 -0.449L0.109 -0.5342Q0.175 -0.566 0.225 -0.612Q0.285 -0.665 0.3154 -0.7158L0.3726 -0.7158Z"/>
<path class="g1" transform="translate(395.19 310.2) scale(16.1)" d="M0.3726 0L0.2847 0L0.2847 -0.5601Q0.245 -0.523 0.19 -0.491Q0.14 -0.462 0.109 -0.449L0.109 -0.5342Q0.175 -0.566 0.225 -0.612Q0.285 -0.665 0.3154 -0.7158L0.3726 -0.7158Z"/><text x="404.14" y="310.2" font-size="16.1">0</text><text x="413.1" y="302.6" font-size="12.5">-2</text>
<path class="g1" transform="translate(514.07 310.2) scale(16.1)" d="M0.3726 0L0.2847 0L0.2847 -0.5601Q0.245 -0.523 0.19 -0.491Q0.14 -0.462 0.109 -0.449L0.109 -0.5342Q0.175 -0.566 0.225 -0.612Q0.285 -0.665 0.3154 -0.7158L0.3726 -0.7158Z"/><text x="523.02" y="310.2" font-size="16.1">0</text><text x="531.98" y="302.6" font-size="12.5">0</text>
<path class="g1" transform="translate(630.87 310.2) scale(16.1)" d="M0.3726 0L0.2847 0L0.2847 -0.5601Q0.245 -0.523 0.19 -0.491Q0.14 -0.462 0.109 -0.449L0.109 -0.5342Q0.175 -0.566 0.225 -0.612Q0.285 -0.665 0.3154 -0.7158L0.3726 -0.7158Z"/><text x="639.82" y="310.2" font-size="16.1">0</text><text x="648.78" y="302.6" font-size="12.5">2</text>
<text x="68.3" y="31.2" font-size="16" font-weight="bold" style="stroke-width:0.1px">a</text>
<text x="425.8" y="32.8" font-size="16" font-weight="bold" style="stroke-width:0.1px">b</text>
<text transform="translate(15.2 209.6) rotate(-90)" font-size="16.4">MSD (μm<tspan dy="-6.5" font-size="12">2</tspan><tspan dy="6.5">)</tspan></text>
<text transform="translate(373.8 210.4) rotate(-90)" font-size="16.9">G', G" (Pa)</text>
<text x="173.8" y="331.2" font-size="16.4"><tspan font-family="Liberation Serif" font-size="17">τ</tspan> (s)</text>
<text x="491.3" y="330.6" font-size="16.4"><tspan font-family="Liberation Serif" font-size="17">ω</tspan> (s</text>
<text x="520.71" y="325" font-size="12">-</text><path class="g1" transform="translate(524.7 325) scale(12)" d="M0.3726 0L0.2847 0L0.2847 -0.5601Q0.245 -0.523 0.19 -0.491Q0.14 -0.462 0.109 -0.449L0.109 -0.5342Q0.175 -0.566 0.225 -0.612Q0.285 -0.665 0.3154 -0.7158L0.3726 -0.7158Z"/>
<text x="531.37" y="330.6" font-size="16.4">)</text>
<text x="560" y="234.8" font-size="12.3">G&quot; (before treatment)</text>
<text x="560" y="246.8" font-size="12.3">G' (before treatment)</text>
<text x="560" y="258.8" font-size="12.3">G&quot; (after treatment)</text>
<text x="560" y="270.8" font-size="12.3">G' (after treatment)</text>
</svg></body></html>
